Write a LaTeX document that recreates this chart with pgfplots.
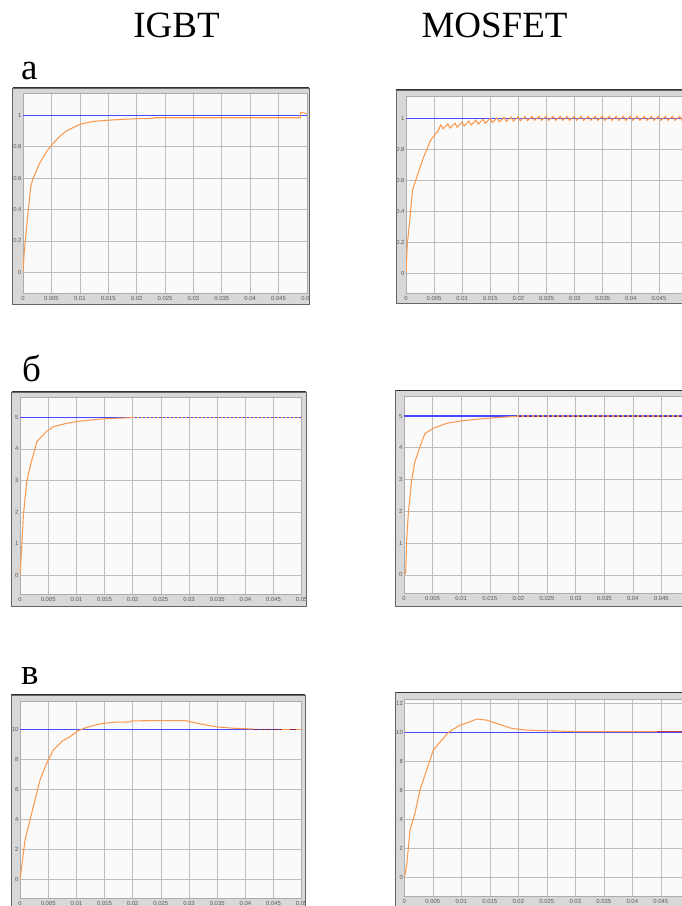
\documentclass[border=0pt]{standalone}
\usepackage{fontspec}
\setmainfont{Liberation Serif}
\newfontfamily\tickfont{Liberation Sans}
\usepackage{pgfplots}
\pgfplotsset{compat=1.18}
\definecolor{refblue}{HTML}{4848FF}
\definecolor{resp}{HTML}{FA9A4E}
\definecolor{dkred}{HTML}{8A2250}
\definecolor{endred}{HTML}{D03A3A}
\definecolor{framebg}{HTML}{D8D8D8}
\definecolor{innerbg}{HTML}{FAFAFA}
\definecolor{gridc}{HTML}{BDBDBD}
\definecolor{tickc}{HTML}{5A5A5A}
\pgfplotsset{
  scopeax/.style={
    scale only axis, anchor=south west,
    xmin=0, xmax=0.05,
    scaled x ticks=false, scaled y ticks=false,
    axis background/.style={fill=innerbg},
    axis line style={draw=gray!65, line width=0.6pt},
    grid=major,
    major grid style={draw=gridc, line width=0.6pt},
    major tick length=0pt,
    xtick={0,0.005,0.01,0.015,0.02,0.025,0.03,0.035,0.04,0.045,0.05},
    xticklabels={0,0.005,0.01,0.015,0.02,0.025,0.03,0.035,0.04,0.045,0.05},
    ticklabel style={font=\tickfont\fontsize{5.9}{6.5}\selectfont, text=tickc, inner sep=0pt},
    xticklabel style={yshift=-2.8pt},
    yticklabel style={xshift=-1.3pt},
  },
  mosax/.style={
    xticklabels={0,0.005,0.01,0.015,0.02,0.025,0.03,0.035,0.04,0.045,},
  },
  refl/.style={refblue, line width=1.05pt},
  outl/.style={resp, line width=1.05pt},
}
\newcommand{\frm}[4]{%
  \fill[framebg] (#1,#2) rectangle (#3,#4);
  \draw[black!60, line width=0.6pt] (#1,#2) rectangle (#3,#4);
  \draw[black!80, line width=1pt] (#1,#4) -- (#3,#4);}
\begin{document}
\begin{tikzpicture}[x=1pt,y=1pt]
\useasboundingbox (0,0) rectangle (682,906);

% gray scope frames
\frm{12.5}{602}{309}{818}
\frm{396}{603}{700}{816}
\frm{11.7}{300}{306}{514}
\frm{395.7}{299.3}{700}{515.3}
\frm{11}{-5}{305}{211}
\frm{395.7}{-5}{700}{213.3}

% --- a, IGBT
\begin{axis}[scopeax, at={(23pt,612.6pt)}, width=284pt, height=200pt,
  ymin=-0.134, ymax=1.14,
  ytick={0,0.2,0.4,0.6,0.8,1}, yticklabels={0,0.2,0.4,0.6,0.8,1}]
\addplot[refl] coordinates {(0,1)(0.05,1)};
\addplot[outl] coordinates {
(0,0)(0.0002,0.12)(0.00047,0.227)(0.00088,0.375)(0.00135,0.545)(0.00176,0.597)
(0.0029,0.693)(0.0041,0.767)(0.005,0.81)(0.00647,0.867)(0.0076,0.9)(0.01,0.943)
(0.0124,0.962)(0.0153,0.97)(0.0194,0.978)(0.0229,0.981)(0.0231,0.985)
(0.0488,0.985)(0.0489,1.02)(0.0495,1.015)(0.05,1.01)};
\end{axis}

% --- a, MOSFET
\begin{axis}[scopeax, mosax, at={(406pt,613pt)}, width=281pt, height=197pt,
  ymin=-0.127, ymax=1.144,
  ytick={0,0.2,0.4,0.6,0.8,1}, yticklabels={0,0.2,0.4,0.6,0.8,1}]
\addplot[refl] coordinates {(0,1)(0.05,1)};
\addplot[outl] coordinates {
(0,0)(0.00024,0.19)(0.00073,0.366)(0.00116,0.538)(0.00195,0.624)(0.00317,0.753)
(0.0044,0.86)(0.0056,0.914)
(0.0062,0.957)(0.0066,0.932)(0.00745,0.963)(0.00785,0.937)
(0.0087,0.969)(0.0091,0.943)(0.00995,0.976)(0.01035,0.950)
(0.0112,0.983)(0.0116,0.957)(0.01245,0.989)(0.01285,0.963)
(0.0137,0.994)(0.0141,0.968)(0.01495,0.999)(0.01535,0.973)
(0.0162,1.003)(0.0166,0.977)(0.01745,1.006)(0.01785,0.980)
(0.0187,1.008)(0.0191,0.982)(0.01995,1.010)(0.02035,0.984)
(0.0212,1.011)(0.0216,0.985)(0.02245,1.013)(0.02285,0.987)
(0.0237,1.013)(0.0241,0.987)(0.02495,1.013)(0.02535,0.987)
(0.0262,1.013)(0.0266,0.987)(0.02745,1.013)(0.02785,0.987)
(0.0287,1.013)(0.0291,0.987)(0.02995,1.013)(0.03035,0.987)
(0.0312,1.013)(0.0316,0.987)(0.03245,1.013)(0.03285,0.987)
(0.0337,1.013)(0.0341,0.987)(0.03495,1.013)(0.03535,0.987)
(0.0362,1.013)(0.0366,0.987)(0.03745,1.013)(0.03785,0.987)
(0.0387,1.013)(0.0391,0.987)(0.03995,1.013)(0.04035,0.987)
(0.0412,1.013)(0.0416,0.987)(0.04245,1.013)(0.04285,0.987)
(0.0437,1.013)(0.0441,0.987)(0.04495,1.013)(0.04535,0.987)
(0.0462,1.013)(0.0466,0.987)(0.04745,1.013)(0.04785,0.987)
(0.0487,1.013)(0.0491,0.987)(0.04995,1.013)(0.05,1.005)};
\end{axis}

% --- b, IGBT
\begin{axis}[scopeax, at={(20pt,312pt)}, width=281.7pt, height=196.3pt,
  ymin=-0.60, ymax=5.62,
  ytick={0,1,2,3,4,5}, yticklabels={0,1,2,3,4,5}]
\addplot[refl] coordinates {(0,5)(0.05,5)};
\addplot[outl] coordinates {
(0,0)(0.0003,0.85)(0.0006,1.9)(0.0012,2.96)(0.0018,3.44)(0.003,4.23)
(0.0047,4.55)(0.0059,4.70)(0.0083,4.81)(0.0107,4.88)(0.0148,4.95)(0.0201,4.99)};
\addplot[outl, dash pattern=on 2pt off 2pt] coordinates {(0.0201,5)(0.05,5)};
\end{axis}

% --- b, MOSFET
\begin{axis}[scopeax, mosax, at={(404pt,312.7pt)}, width=286pt, height=197.3pt,
  ymin=-0.58, ymax=5.63,
  ytick={0,1,2,3,4,5}, yticklabels={0,1,2,3,4,5}]
\addplot[refl] coordinates {(0,5)(0.05,5)};
\addplot[outl] coordinates {
(0,0)(0.00029,0.05)(0.00047,1.1)(0.00076,1.94)(0.00134,2.99)(0.0019,3.56)
(0.0028,4.04)(0.00367,4.45)(0.0051,4.61)(0.00745,4.77)(0.0098,4.84)
(0.0133,4.91)(0.0162,4.95)(0.0197,4.99)};
\addplot[dkred!70!refblue, line width=1pt] coordinates {(0.0197,5)(0.05,5)};
\addplot[outl, dash pattern=on 2pt off 3pt] coordinates {(0.0197,5)(0.05,5)};
\end{axis}

% --- c, IGBT
\begin{axis}[scopeax, at={(20pt,8pt)}, width=281.7pt, height=196.3pt,
  ymin=-1.25, ymax=11.84,
  ytick={0,2,4,6,8,10}, yticklabels={0,2,4,6,8,10}]
\addplot[refl] coordinates {(0,10)(0.05,10)};
\addplot[outl] coordinates {
(0,0)(0.0003,0.84)(0.00089,2.62)(0.00178,3.96)(0.00266,5.29)(0.00355,6.62)
(0.00473,7.73)(0.00592,8.62)(0.0074,9.18)(0.00888,9.51)(0.01036,9.91)
(0.01183,10.13)(0.0142,10.36)(0.0166,10.47)(0.0195,10.49)(0.0198,10.56)
(0.0243,10.58)(0.0293,10.58)(0.032,10.36)(0.0349,10.16)(0.0379,10.07)
(0.0414,10.02)};
\addplot[dkred, line width=1pt, dash pattern=on 5pt off 1.5pt] coordinates {(0.0414,10)(0.0465,10)};
\addplot[outl] coordinates {(0.0465,10)(0.0480,10)};
\addplot[dkred, line width=1pt] coordinates {(0.0480,10)(0.0490,10)};
\addplot[outl] coordinates {(0.0490,10)(0.05,10)};
\end{axis}

% --- c, MOSFET
\begin{axis}[scopeax, mosax, at={(404.3pt,9.3pt)}, width=285pt, height=197.4pt,
  ymin=-1.31, ymax=12.28,
  ytick={0,2,4,6,8,10,12}, yticklabels={0,2,4,6,8,10,12}]
\addplot[refl] coordinates {(0,10)(0.05,10)};
\addplot[outl] coordinates {
(0,0)(0.0004,0.76)(0.001,3.28)(0.00187,4.43)(0.00275,6.03)(0.00392,7.41)
(0.00509,8.78)(0.00655,9.47)(0.00772,10.0)(0.00977,10.5)(0.0115,10.73)
(0.0127,10.92)(0.0144,10.85)(0.0162,10.62)(0.0188,10.28)(0.0215,10.16)
(0.025,10.11)(0.0308,10.05)(0.0443,10.05)};
\addplot[endred, line width=1pt] coordinates {(0.0443,10.03)(0.05,10.03)};
\end{axis}

% clip overflowing last tick labels of the left column
\fill[white] (309.6,590) rectangle (340,830);
\fill[white] (306.6,290) rectangle (340,520);
\fill[white] (305.6,0) rectangle (340,220);
\draw[black!60, line width=0.6pt] (309,602) -- (309,818);
\draw[black!60, line width=0.6pt] (306,300) -- (306,514);
\draw[black!60, line width=0.6pt] (305,0) -- (305,211);

% titles and panel letters
\node[anchor=base, font=\fontsize{37}{40}\selectfont, inner sep=0pt] at (176.5,868.7) {IGBT};
\node[anchor=base, font=\fontsize{37}{40}\selectfont, inner sep=0pt] at (494.5,868.7) {MOSFET};
\node[anchor=base west, font=\fontsize{37}{40}\selectfont, inner sep=0pt] at (21,826) {а};
\node[anchor=base west, font=\fontsize{37}{40}\selectfont, inner sep=0pt] at (22,524.3) {б};
\node[anchor=base west, font=\fontsize{37}{40}\selectfont, inner sep=0pt] at (21,221) {в};
\end{tikzpicture}
\end{document}
